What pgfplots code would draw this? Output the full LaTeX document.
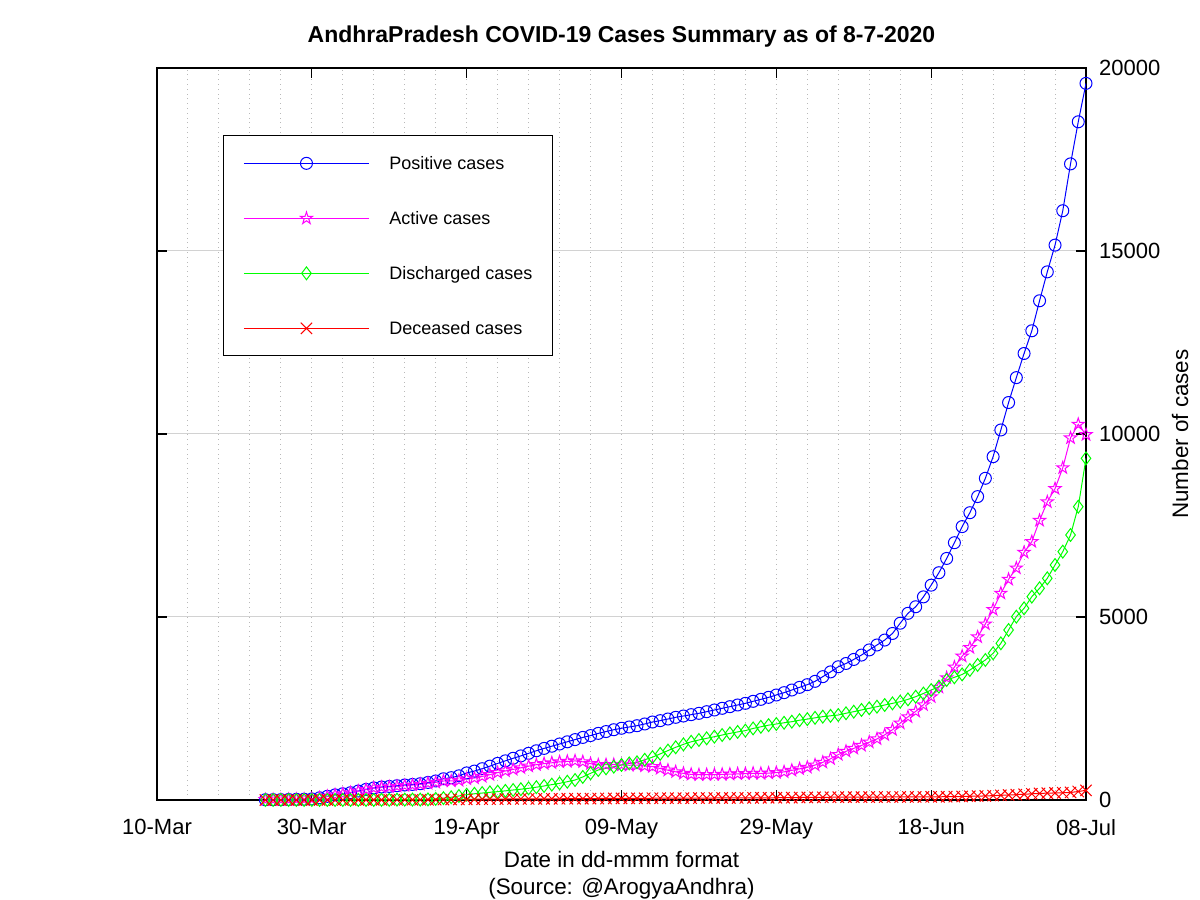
\documentclass[border=0pt]{standalone}
\usepackage{fontspec}
\setmainfont{Liberation Sans}
\usepackage{pgfplots}
\usepackage{pgfplotstable}
\pgfplotsset{compat=1.18}
\usetikzlibrary{plotmarks}

\definecolor{cpos}{RGB}{0,0,255}
\definecolor{cact}{RGB}{255,0,255}
\definecolor{cdis}{RGB}{0,255,0}
\definecolor{cdec}{RGB}{255,0,0}

% outlined five-pointed star, like Octave's pentagram
\pgfdeclareplotmark{pentagram}{%
  \pgfpathmoveto{\pgfqpointpolar{90}{\pgfplotmarksize}}%
  \pgfpathlineto{\pgfqpointpolar{126}{0.382\pgfplotmarksize}}%
  \pgfpathlineto{\pgfqpointpolar{162}{\pgfplotmarksize}}%
  \pgfpathlineto{\pgfqpointpolar{198}{0.382\pgfplotmarksize}}%
  \pgfpathlineto{\pgfqpointpolar{234}{\pgfplotmarksize}}%
  \pgfpathlineto{\pgfqpointpolar{270}{0.382\pgfplotmarksize}}%
  \pgfpathlineto{\pgfqpointpolar{306}{\pgfplotmarksize}}%
  \pgfpathlineto{\pgfqpointpolar{342}{0.382\pgfplotmarksize}}%
  \pgfpathlineto{\pgfqpointpolar{18}{\pgfplotmarksize}}%
  \pgfpathlineto{\pgfqpointpolar{54}{0.382\pgfplotmarksize}}%
  \pgfpathclose
  \pgfusepathqstroke
}

% day 0 = 10-Mar
\pgfplotstableread{
day pos act dis dec
14 8 8 0 0
15 10 10 0 0
16 11 10 1 0
17 14 13 1 0
18 19 18 1 0
19 21 20 1 0
20 30 29 1 0
21 60 59 1 0
22 100 99 1 0
23 140 139 1 0
24 170 168 1 1
25 200 198 1 1
26 245 241 1 3
27 290 286 1 3
28 330 325 1 4
29 355 347 4 4
30 370 358 6 6
31 390 375 9 6
32 410 394 10 6
33 425 408 11 6
34 445 427 11 7
35 480 457 16 7
36 520 481 30 9
37 580 519 50 11
38 610 521 75 14
39 660 535 110 15
40 740 578 145 17
41 790 600 170 20
42 855 643 190 22
43 925 691 210 24
44 1000 748 228 24
45 1070 793 250 27
46 1140 836 273 31
47 1205 879 295 31
48 1275 925 319 31
49 1345 964 350 31
50 1410 994 383 33
51 1470 1017 420 33
52 1530 1042 455 33
53 1590 1054 500 36
54 1650 1068 546 36
55 1710 1044 630 36
56 1760 993 729 38
57 1820 959 820 41
58 1870 964 865 41
59 1920 966 910 44
60 1960 959 956 45
61 1995 949 1000 46
62 2030 954 1030 46
63 2077 930 1100 47
64 2131 913 1170 48
65 2168 860 1260 48
66 2213 814 1350 49
67 2259 770 1440 49
68 2295 726 1520 49
69 2332 700 1590 50
70 2368 690 1640 53
71 2413 692 1685 53
72 2459 695 1730 55
73 2505 700 1775 56
74 2550 705 1820 56
75 2596 715 1860 57
76 2641 720 1895 58
77 2696 730 1955 59
78 2750 725 2000 60
79 2805 735 2045 60
80 2869 750 2077 62
81 2933 768 2110 64
82 3005 810 2140 64
83 3078 850 2180 68
84 3151 892 2210 71
85 3242 955 2245 73
86 3370 1030 2277 73
87 3500 1125 2300 75
88 3640 1241 2322 77
89 3730 1330 2370 78
90 3840 1410 2413 80
91 3960 1490 2460 80
92 4100 1580 2505 81
93 4235 1670 2550 81
94 4370 1780 2596 82
95 4550 1920 2640 82
96 4830 2100 2686 83
97 5100 2270 2750 83
98 5280 2420 2823 84
99 5550 2600 2910 84
100 5870 2820 3005 86
101 6210 3080 3096 88
102 6600 3340 3279 90
103 7030 3630 3352 92
104 7470 3930 3430 96
105 7850 4162 3552 101
106 8290 4455 3689 106
107 8790 4808 3825 111
108 9380 5203 4008 119
109 10110 5649 4281 128
110 10860 6028 4645 136
111 11540 6338 5009 146
112 12200 6765 5237 157
113 12820 7058 5556 169
114 13640 7638 5784 180
115 14430 8145 6057 187
116 15160 8507 6421 193
117 16100 9076 6785 198
118 17380 9892 7240 206
119 18530 10264 8014 232
120 19580 9981 9335 264
}\data

\begin{document}
\begin{tikzpicture}
\useasboundingbox (0,0) rectangle (600pt,450pt);
\begin{axis}[
    at={(78.5pt,50pt)}, anchor=south west,
    scale only axis, width=464.5pt, height=366pt,
    xmin=0, xmax=120, ymin=0, ymax=20000,
    xtick={0,20,...,120},
    xticklabels={10-Mar,30-Mar,19-Apr,09-May,29-May,18-Jun,08-Jul},
    minor x tick num=4,
    ytick={0,5000,...,20000},
    yticklabel pos=right,
    scaled y ticks=false,
    /pgf/number format/1000 sep={},
    /pgf/number format/assume math mode=true,
    tick align=inside, major tick length=5pt, minor tick length=0pt,
    xmajorgrids, xminorgrids, ymajorgrids,
    major x grid style={gray!55, dotted, line width=0.5pt},
    minor x grid style={gray!55, dotted, line width=0.5pt},
    major y grid style={gray!35, line width=0.5pt},
    axis line style={black, line width=0.6pt},
    tick style={black, line width=0.6pt},
    ticklabel style={font=\fontsize{11}{13}\selectfont},
    xticklabel style={yshift=-6pt},
    yticklabel style={xshift=3pt},
    xlabel={Date in dd-mmm format\\(Source: @ArogyaAndhra)},
    xlabel style={at={(axis description cs:0.5,0)}, anchor=north, yshift=-22pt,
        align=center, font=\fontsize{11.2}{13.8}\selectfont},
    ylabel={Number of cases},
    ylabel style={at={(axis description cs:1,0.5)}, anchor=center, yshift=-47pt,
        font=\fontsize{11.2}{14}\selectfont},
    title={AndhraPradesh COVID-19 Cases Summary as of 8-7-2020},
    title style={at={(axis description cs:0.5,1)}, anchor=center, yshift=9.5pt,
        font=\bfseries\fontsize{11.5}{14}\selectfont},
    every axis plot/.append style={line width=0.5pt},
    legend image code/.code={\draw[mark repeat=2,mark phase=2,#1]
        plot coordinates {(0pt,0pt) (31.25pt,0pt) (62.5pt,0pt)};},
    legend cell align=left,
    legend style={at={(axis description cs:0.071,0.908)}, anchor=north west,
        draw=black, line width=0.5pt, fill=white,
        font=\fontsize{9}{11}\selectfont,
        inner xsep=10pt, inner ysep=9pt, row sep=18pt, column sep=10pt,
        nodes={inner sep=0pt, text height=8pt, text depth=1.5pt},
        /tikz/every odd column/.append style={nodes={inner xsep=0pt}},
        /tikz/every even column/.append style={nodes={inner xsep=0pt}}},
]
\addplot[color=cpos, mark=o, mark size=3pt] table[x=day, y=pos] {\data};
\addlegendentry{Positive cases}
\addplot[color=cact, mark=pentagram, mark size=3.2pt] table[x=day, y=act] {\data};
\addlegendentry{Active cases}
\addplot[color=cdis, mark=diamond, mark size=3.2pt] table[x=day, y=dis] {\data};
\addlegendentry{Discharged cases}
\addplot[color=cdec, mark=x, mark size=4pt] table[x=day, y=dec] {\data};
\addlegendentry{Deceased cases}
\end{axis}
\end{tikzpicture}
\end{document}
